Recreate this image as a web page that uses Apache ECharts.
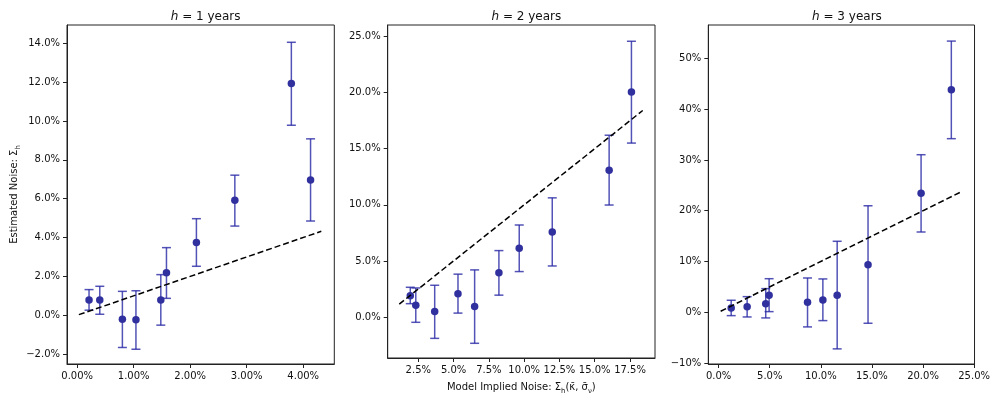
<!DOCTYPE html>
<html><head><meta charset="utf-8">
<script src="https://cdn.jsdelivr.net/npm/echarts@6/dist/echarts.min.js"></script>
<style>html,body{margin:0;padding:0;background:#fff}#c{width:993px;height:400px}</style>
</head><body><div id="c"></div>
<script>
// ---- data (values in percent) ----
const horizons = ['1', '2', '3'];

const p1X  = [0.21, 0.40, 0.80, 1.04, 1.48, 1.58, 2.11, 2.79, 3.79, 4.13];
const p1Y  = [0.79, 0.79, -0.21, -0.23, 0.79, 2.19, 3.74, 5.92, 11.93, 6.96];
const p1Lo = [0.26, 0.05, -1.66, -1.75, -0.51, 0.87, 2.52, 4.59, 9.78, 4.85];
const p1Hi = [1.32, 1.49, 1.23, 1.26, 2.09, 3.48, 4.97, 7.21, 14.05, 9.08];
const p1Line = [0.03, 4.32];

const p2X  = [1.93, 2.32, 3.66, 5.31, 6.49, 8.21, 9.65, 11.99, 16.02, 17.60];
const p2Y  = [1.89, 1.05, 0.49, 2.07, 0.93, 3.94, 6.13, 7.58, 13.07, 20.05];
const p2Lo = [1.19, -0.47, -1.90, 0.35, -2.34, 1.95, 4.05, 4.55, 9.98, 15.50];
const p2Hi = [2.65, 2.59, 2.83, 3.82, 4.20, 5.92, 8.20, 10.62, 16.20, 24.57];
const p2Line = [1.15, 18.40];

const p3X  = [1.23, 2.79, 4.61, 4.94, 8.70, 10.20, 11.60, 14.62, 19.81, 22.77];
const p3Y  = [0.85, 1.10, 1.69, 3.35, 1.97, 2.42, 3.35, 9.37, 23.43, 43.84];
const p3Lo = [-0.67, -0.93, -1.12, 0.12, -2.89, -1.65, -7.22, -2.17, 15.81, 34.20];
const p3Hi = [2.36, 3.07, 4.65, 6.61, 6.75, 6.56, 13.98, 20.98, 31.04, 53.43];
const p3Line = [0.20, 23.80];

const p1XTicks = [0, 1, 2, 3, 4];
const p1YTicks = [-2, 0, 2, 4, 6, 8, 10, 12, 14];
const p2XTicks = [2.5, 5, 7.5, 10, 12.5, 15, 17.5];
const p2YTicks = [0, 5, 10, 15, 20, 25];
const p3XTicks = [0, 5, 10, 15, 20, 25];
const p3YTicks = [-10, 0, 10, 20, 30, 40, 50];

// ---- layout / style ----
const FONT = '"DejaVu Sans", sans-serif';
const ptColor = '#30309e';
const ebColor = 'rgba(40,40,165,0.8)';
const panels = [
  {x:p1X,y:p1Y,lo:p1Lo,hi:p1Hi,line:p1Line,xt:p1XTicks,yt:p1YTicks,xd:2,yd:1,
   xmin:-0.18,xmax:4.55,ymin:-2.51,ymax:14.94,left:67},
  {x:p2X,y:p2Y,lo:p2Lo,hi:p2Hi,line:p2Line,xt:p2XTicks,yt:p2YTicks,xd:1,yd:1,
   xmin:0.33,xmax:19.27,ymin:-3.65,ymax:26.02,left:387.7},
  {x:p3X,y:p3Y,lo:p3Lo,hi:p3Hi,line:p3Line,xt:p3XTicks,yt:p3YTicks,xd:1,yd:0,
   xmin:-1.01,xmax:25.04,ymin:-10.2,ymax:56.6,left:708.3}
];
const GW = 267.3, GT = 25, GH = 339;

const grids = [], xAxes = [], yAxes = [], series = [], titlesArr = [];
const labelStyle = {fontFamily: FONT, fontSize: 10, color: '#111'};
const subRich = {
  m: {fontFamily: FONT, fontSize: 10, color: '#111', lineHeight: 16, verticalAlign: 'middle'},
  s: {fontFamily: FONT, fontSize: 7, color: '#111', lineHeight: 9, verticalAlign: 'bottom'}
};
const fmt = (v, d) => v.toFixed(d).replace('-', '\u2212') + '%';

function errRender(params, api) {
  const x = api.value(0), lo = api.value(2), hi = api.value(3);
  const a = api.coord([x, lo]), b = api.coord([x, hi]);
  const cw = 4.5;
  const st = {stroke: ebColor, lineWidth: 1.5};
  return {type: 'group', children: [
    {type: 'line', shape: {x1: a[0], y1: a[1], x2: b[0], y2: b[1]}, style: st},
    {type: 'line', shape: {x1: a[0] - cw, y1: a[1], x2: a[0] + cw, y2: a[1]}, style: st},
    {type: 'line', shape: {x1: b[0] - cw, y1: b[1], x2: b[0] + cw, y2: b[1]}, style: st}
  ]};
}

panels.forEach((p, i) => {
  grids.push({left: p.left, top: GT, width: GW, height: GH, show: true,
    borderColor: '#222', borderWidth: 1, backgroundColor: 'transparent'});
  const xa = {
    type: 'value', gridIndex: i, min: p.xmin, max: p.xmax,
    splitLine: {show: false},
    axisLine: {show: true, onZero: false, lineStyle: {color: '#222', width: 1}},
    axisTick: {show: true, inside: false, length: 4, lineStyle: {color: '#222'}, customValues: p.xt},
    axisLabel: Object.assign({margin: 7, customValues: p.xt,
      formatter: v => fmt(v, p.xd)}, labelStyle)
  };
  if (i === 1) {
    xa.name = '{m|Model Implied Noise: Σ}{s|h}{m|(κ̄, σ̄}{s|ν}{m|)}';
    xa.nameLocation = 'middle';
    xa.nameGap = 21;
    xa.nameTextStyle = {rich: subRich};
  }
  xAxes.push(xa);
  const ya = {
    type: 'value', gridIndex: i, min: p.ymin, max: p.ymax,
    splitLine: {show: false},
    axisLine: {show: true, onZero: false, lineStyle: {color: '#222', width: 1}},
    axisTick: {show: true, inside: false, length: 4, lineStyle: {color: '#222'}, customValues: p.yt},
    axisLabel: Object.assign({margin: 7, customValues: p.yt,
      formatter: v => fmt(v, p.yd)}, labelStyle)
  };
  if (i === 0) {
    ya.name = '{m|Estimated Noise: Σ}{s|h}';
    ya.nameLocation = 'middle';
    ya.nameRotate = 90;
    ya.nameGap = 45;
    ya.nameTextStyle = {rich: subRich};
  }
  yAxes.push(ya);

  titlesArr.push({
    text: '{i|h} = ' + horizons[i] + ' years',
    left: p.left + GW / 2, top: 6, textAlign: 'center',
    textStyle: {fontFamily: FONT, fontSize: 12, fontWeight: 'normal', color: '#111',
      rich: {i: {fontFamily: FONT, fontSize: 12, fontStyle: 'italic', color: '#111'}}}
  });

  const errData = p.x.map((xv, k) => [xv, p.y[k], p.lo[k], p.hi[k]]);
  series.push({
    type: 'custom', xAxisIndex: i, yAxisIndex: i, renderItem: errRender,
    data: errData, encode: {x: 0, y: [2, 3]}, silent: true, z: 2
  });
  series.push({
    type: 'scatter', xAxisIndex: i, yAxisIndex: i, symbolSize: 7.5,
    itemStyle: {color: ptColor, opacity: 1}, data: p.x.map((xv, k) => [xv, p.y[k]]), z: 3
  });
  series.push({
    type: 'line', xAxisIndex: i, yAxisIndex: i, symbol: 'none', silent: true,
    lineStyle: {color: '#000', width: 1.5, type: [6, 3]},
    data: [[p.line[0], p.line[0]], [p.line[1], p.line[1]]], z: 4
  });
});

const chart = echarts.init(document.getElementById('c'), null, {renderer: 'canvas'});
chart.setOption({
  animation: false,
  backgroundColor: '#fff',
  title: titlesArr,
  grid: grids,
  xAxis: xAxes,
  yAxis: yAxes,
  series: series
});
</script>
</body></html>
